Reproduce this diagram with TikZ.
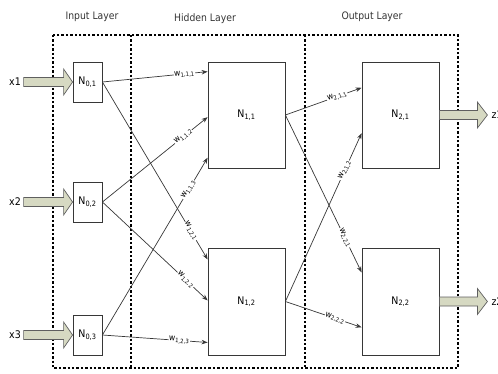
\documentclass[tikz,border=0pt]{standalone}
\usepackage{fontspec}
\setmainfont{DejaVu Sans Condensed}
\usetikzlibrary{calc,arrows.meta}
\definecolor{arrowfill}{RGB}{214,217,194}
\definecolor{linecol}{RGB}{55,55,55}
\tikzset{
  neuron/.style={draw=linecol,line width=0.8pt,rectangle,inner sep=0pt,font=\fontsize{10.5}{11}\selectfont},
  wline/.style={draw=linecol,line width=0.7pt,-{Stealth[length=6pt,width=4.5pt]}},
  wlabel/.style={sloped,fill=white,inner sep=0.5pt,font=\fontsize{8.5}{9}\selectfont},
  layerbox/.style={draw=black,line width=1.8pt,dash pattern=on 2.4pt off 2pt},
  fatarrow/.style={draw=linecol!80,line width=0.7pt,fill=arrowfill},
  title/.style={font=\fontsize{10.3}{11}\selectfont,text=black!80},
  io/.style={font=\fontsize{10.5}{11}\selectfont}
}
\begin{document}
\begin{tikzpicture}[x=1pt,y=-1pt]
\useasboundingbox (0,0) rectangle (498,373);
% layer frames
\draw[layerbox] (53,35) rectangle (458,368);
\draw[layerbox] (131,35) -- (131,368);
\draw[layerbox] (305,35) -- (305,368);
% titles
\node[title] (tin) at (92,17) {Input Layer};
\node[title] (thid) at (205,19) {Hidden Layer};
\node[title] (tout) at (372,17) {Output Layer};
% neurons
\node[neuron,minimum width=29pt,minimum height=40pt] (n01) at (87.5,82) {N\textsubscript{0,1}};
\node[neuron,minimum width=29pt,minimum height=40pt] (n02) at (87.5,202) {N\textsubscript{0,2}};
\node[neuron,minimum width=29pt,minimum height=40pt] (n03) at (87.5,335) {N\textsubscript{0,3}};
\node[neuron,minimum width=77pt,minimum height=106pt] (n11) at (246.5,115) {N\textsubscript{1,1}};
\node[neuron,minimum width=77pt,minimum height=107pt] (n12) at (246.5,301.5) {N\textsubscript{1,2}};
\node[neuron,minimum width=77pt,minimum height=106pt] (n21) at (400.5,115) {N\textsubscript{2,1}};
\node[neuron,minimum width=77pt,minimum height=107pt] (n22) at (400.5,301.5) {N\textsubscript{2,2}};
% inputs
\node[io] (x1) at (15,82) {x1};
\node[io] (x2) at (15,202) {x2};
\node[io] (x3) at (15,335) {x3};
\foreach \n in {n01,n02,n03}{
  \draw[fatarrow,shift={(\n.west)}] (-49,-4.5) -- (-9,-4.5) -- (-9,-13) -- (0,0) -- (-9,13) -- (-9,4.5) -- (-49,4.5) -- cycle;
}
% outputs
\foreach \n in {n21,n22}{
  \draw[fatarrow,shift={(\n.east)}] (0,-4.5) -- (38,-4.5) -- (38,-13) -- (48,0) -- (38,13) -- (38,4.5) -- (0,4.5) -- cycle;
}
\node[io,anchor=west] (z1) at (488,115) {z1};
\node[io,anchor=west] (z2) at (488,302) {z2};
% input -> hidden
\draw[wline] (n01.east) -- node[wlabel,pos=0.78]{w\textsubscript{1,1,1}} ($(n11.north west)!0.094!(n11.south west)$);
\draw[wline] (n02.east) -- node[wlabel,pos=0.77]{w\textsubscript{1,1,2}} ($(n11.north west)!0.52!(n11.south west)$);
\draw[wline] (n03.east) -- node[wlabel,pos=0.82]{w\textsubscript{1,1,3}} ($(n11.north west)!0.9!(n11.south west)$);
\draw[wline] (n01.east) -- node[wlabel,pos=0.84]{w\textsubscript{1,2,1}} ($(n12.north west)!0.11!(n12.south west)$);
\draw[wline] (n02.east) -- node[wlabel,pos=0.79]{w\textsubscript{1,2,2}} ($(n12.north west)!0.49!(n12.south west)$);
\draw[wline] (n03.east) -- node[wlabel,pos=0.73]{w\textsubscript{1,2,3}} ($(n12.north west)!0.88!(n12.south west)$);
% hidden -> output
\draw[wline] (n11.east) -- node[wlabel,pos=0.68]{w\textsubscript{2,1,1}} ($(n21.north west)!0.245!(n21.south west)$);
\draw[wline] (n12.east) -- node[wlabel,pos=0.78]{w\textsubscript{2,1,2}} ($(n21.north west)!0.67!(n21.south west)$);
\draw[wline] (n11.east) -- node[wlabel,pos=0.78]{w\textsubscript{2,2,1}} ($(n22.north west)!0.23!(n22.south west)$);
\draw[wline] (n12.east) -- node[wlabel,pos=0.65]{w\textsubscript{2,2,2}} ($(n22.north west)!0.74!(n22.south west)$);
\end{tikzpicture}
\end{document}
